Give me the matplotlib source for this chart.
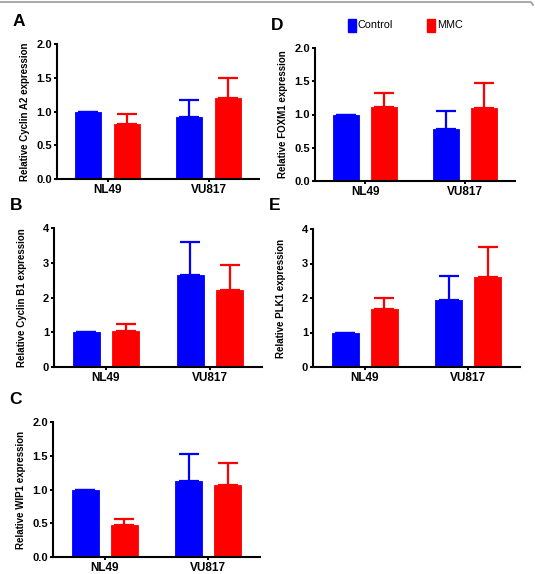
import matplotlib.pyplot as plt
from matplotlib.lines import Line2D
from matplotlib.patches import Rectangle

plt.rcParams["font.family"] = ["Liberation Sans", "DejaVu Sans"]

W, H = 535, 574

cell_lines = ["NL49", "VU817"]
groups = ["Control", "MMC"]
colors = ["#0000ff", "#ff0000"]

cyclin_a2_ctrl = [1.00, 0.92]
cyclin_a2_ctrl_err = [0.0, 0.25]
cyclin_a2_mmc = [0.81, 1.20]
cyclin_a2_mmc_err = [0.16, 0.29]

cyclin_b1_ctrl = [1.00, 2.64]
cyclin_b1_ctrl_err = [0.0, 0.95]
cyclin_b1_mmc = [1.05, 2.21]
cyclin_b1_mmc_err = [0.20, 0.73]

wip1_ctrl = [1.00, 1.12]
wip1_ctrl_err = [0.0, 0.40]
wip1_mmc = [0.48, 1.06]
wip1_mmc_err = [0.09, 0.34]

foxm1_ctrl = [1.00, 0.78]
foxm1_ctrl_err = [0.0, 0.28]
foxm1_mmc = [1.12, 1.10]
foxm1_mmc_err = [0.21, 0.37]

plk1_ctrl = [1.00, 1.95]
plk1_ctrl_err = [0.0, 0.70]
plk1_mmc = [1.67, 2.62]
plk1_mmc_err = [0.32, 0.86]

ticks_2 = [0.0, 0.5, 1.0, 1.5, 2.0]
ticks_4 = [0, 1, 2, 3, 4]


def px_box(left, top, right, bottom):
    return [left / W, 1 - bottom / H, (right - left) / W, (bottom - top) / H]


def panel(fig, box, letter, ylabel, ctrl, ctrl_err, mmc, mmc_err, yticks, fmt):
    ax = fig.add_axes(px_box(*box))
    width_px = box[2] - box[0]
    x = list(range(len(cell_lines)))
    off, bw = 0.19, 0.26
    for vals, errs, dx, c in [(ctrl, ctrl_err, -off, colors[0]), (mmc, mmc_err, off, colors[1])]:
        pos = [i + dx for i in x]
        ax.bar(pos, vals, width=bw, color=c, edgecolor=c, linewidth=0.6, zorder=2)
        # upper error only, the lower half hides behind the bar
        ax.errorbar(pos, vals, yerr=[[0] * len(errs), errs],
                    fmt="none", ecolor=c, elinewidth=1.6, capsize=7.5, capthick=1.6, zorder=1)
    ax.set_xlim(-0.5, 1.5)
    ax.set_ylim(0, yticks[-1])
    ax.set_xticks(x)
    ax.set_xticklabels(cell_lines, fontsize=8.5, fontweight="bold")
    ax.set_yticks(yticks)
    ax.set_yticklabels([fmt.format(t) for t in yticks], fontsize=8, fontweight="bold")
    ax.tick_params(axis="y", direction="out", length=2.5, width=1.4, pad=1)
    ax.tick_params(axis="x", direction="out", length=2, width=1.4, pad=1.3)
    for s in ["top", "right"]:
        ax.spines[s].set_visible(False)
    for s in ["left", "bottom"]:
        ax.spines[s].set_linewidth(1.5)
    ax.set_ylabel(ylabel, fontsize=7, fontweight="bold")
    ax.yaxis.set_label_coords(-27 / width_px, 0.5)
    fig.text((box[0] - 44) / W, 1 - (box[1] - 23) / H, letter, fontsize=12.5,
             fontweight="bold", ha="left", va="center")
    return ax


fig = plt.figure(figsize=(W / 100, H / 100), dpi=100)

panel(fig, (57, 44, 259, 179), "A", "Relative Cyclin A2 expression",
      cyclin_a2_ctrl, cyclin_a2_ctrl_err, cyclin_a2_mmc, cyclin_a2_mmc_err, ticks_2, "{:.1f}")
panel(fig, (54, 228, 262, 367), "B", "Relative Cyclin B1 expression",
      cyclin_b1_ctrl, cyclin_b1_ctrl_err, cyclin_b1_mmc, cyclin_b1_mmc_err, ticks_4, "{:d}")
panel(fig, (53, 422, 260, 557), "C", "Relative WIP1 expression",
      wip1_ctrl, wip1_ctrl_err, wip1_mmc, wip1_mmc_err, ticks_2, "{:.1f}")
panel(fig, (315, 48, 515, 181), "D", "Relative FOXM1 expression",
      foxm1_ctrl, foxm1_ctrl_err, foxm1_mmc, foxm1_mmc_err, ticks_2, "{:.1f}")
panel(fig, (313, 229, 520, 367), "E", "Relative PLK1 expression",
      plk1_ctrl, plk1_ctrl_err, plk1_mmc, plk1_mmc_err, ticks_4, "{:d}")

# legend drawn by hand above panel D
for lx, name, c in [(348, groups[0], colors[0]), (427, groups[1], colors[1])]:
    fig.patches.append(Rectangle((lx / W, 1 - 32 / H), 8 / W, 13 / H, color=c,
                                 transform=fig.transFigure, figure=fig))
    fig.text((lx + 10) / W, 1 - 25.5 / H, name, fontsize=7.8, ha="left", va="center")

# thin grey frame line at the top
fig.lines.append(Line2D([0, 531 / W, 533 / W], [1 - 2 / H, 1 - 2 / H, 1 - 5 / H],
                        color="#999999", linewidth=1.2, transform=fig.transFigure, figure=fig))

fig.savefig("out.png", dpi=100)
